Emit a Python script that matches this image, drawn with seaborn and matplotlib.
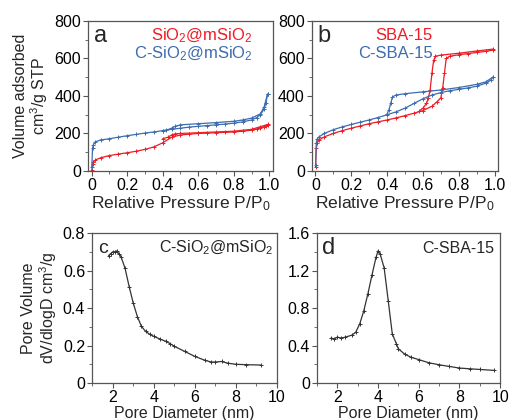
import numpy as np
import pandas as pd
import matplotlib
matplotlib.use("Agg")
import matplotlib.pyplot as plt
from matplotlib.ticker import MultipleLocator, FuncFormatter
import seaborn as sns

# ---- data ----
# panel a: SiO2@mSiO2 (red) and C-SiO2@mSiO2 (blue)
a_p_ads = [0.001, 0.005, 0.01, 0.02, 0.05, 0.1, 0.15, 0.2, 0.25, 0.3, 0.35, 0.4, 0.45,
           0.5, 0.55, 0.6, 0.65, 0.7, 0.75, 0.8, 0.85, 0.9, 0.93, 0.95, 0.97, 0.98, 0.99]
a_blue_ads = [20, 120, 140, 155, 165, 172, 180, 188, 195, 202, 208, 215, 222,
              228, 234, 238, 242, 246, 250, 255, 262, 272, 285, 300, 330, 360, 410]
a_red_ads = [5, 35, 48, 58, 70, 82, 90, 97, 105, 115, 128, 150, 180,
             192, 196, 200, 202, 204, 206, 208, 212, 218, 224, 230, 236, 240, 245]
a_blue_des_p = [0.99, 0.97, 0.95, 0.9, 0.85, 0.8, 0.7, 0.6, 0.5, 0.47, 0.45, 0.42, 0.4]
a_blue_des = [410, 340, 305, 282, 272, 265, 258, 252, 246, 238, 228, 217, 214]
a_red_des_p = [0.99, 0.95, 0.9, 0.8, 0.7, 0.6, 0.5, 0.47, 0.45, 0.43, 0.4]
a_red_des = [248, 236, 222, 212, 208, 204, 200, 198, 192, 180, 172]

# panel b: SBA-15 (red) and C-SBA-15 (blue)
b_blue_p_ads = [0.001, 0.005, 0.01, 0.02, 0.05, 0.1, 0.15, 0.2, 0.25, 0.3, 0.35, 0.4, 0.45,
                0.5, 0.55, 0.6, 0.65, 0.7, 0.75, 0.8, 0.85, 0.9, 0.95, 0.98, 0.99]
b_blue_ads = [30, 150, 170, 182, 200, 220, 235, 248, 260, 272, 285, 300, 315,
              335, 360, 385, 405, 418, 428, 435, 443, 452, 468, 485, 500]
b_blue_des_p = [0.99, 0.95, 0.9, 0.8, 0.7, 0.6, 0.5, 0.45, 0.43, 0.42, 0.41, 0.4]
b_blue_des = [500, 475, 462, 445, 432, 422, 412, 405, 395, 360, 325, 305]
b_red_p_ads = [0.001, 0.005, 0.01, 0.02, 0.05, 0.1, 0.15, 0.2, 0.25, 0.3, 0.35, 0.4, 0.45, 0.5,
               0.55, 0.6, 0.65, 0.68, 0.7, 0.71, 0.72, 0.73, 0.75, 0.8, 0.85, 0.9, 0.95, 0.99]
b_red_ads = [20, 120, 150, 165, 182, 200, 215, 228, 240, 252, 262, 272, 283, 295,
             308, 322, 345, 370, 390, 440, 520, 600, 612, 620, 626, 632, 638, 645]
b_red_des_p = [0.99, 0.9, 0.8, 0.7, 0.67, 0.66, 0.65, 0.64, 0.63, 0.62, 0.6, 0.58]
b_red_des = [650, 640, 628, 618, 612, 590, 520, 430, 390, 360, 335, 320]

# panel c: C-SiO2@mSiO2 pore size distribution
c_d = [1.8, 1.9, 2.0, 2.1, 2.2, 2.3, 2.4, 2.6, 2.8, 3.0, 3.2, 3.4, 3.6, 3.8, 4.0, 4.3, 4.6, 4.8,
       5.0, 5.5, 6.0, 6.5, 6.8, 7.0, 7.3, 7.6, 8.0, 8.5, 9.2]
c_v = [0.68, 0.69, 0.70, 0.70, 0.705, 0.69, 0.675, 0.613, 0.515, 0.427, 0.355, 0.302, 0.276,
       0.26, 0.249, 0.235, 0.222, 0.21, 0.196, 0.169, 0.142, 0.121, 0.112, 0.112, 0.115,
       0.106, 0.100, 0.098, 0.096]

# panel d: C-SBA-15 pore size distribution
d_d = [1.7, 1.85, 2.0, 2.2, 2.4, 2.7, 2.9, 3.1, 3.3, 3.5, 3.7, 3.9, 4.0, 4.1, 4.3, 4.5, 4.7,
       4.9, 5.0, 5.3, 5.6, 6.0, 6.5, 7.0, 7.5, 8.0, 8.5, 9.0, 9.7]
d_v = [0.48, 0.47, 0.49, 0.48, 0.49, 0.51, 0.54, 0.63, 0.77, 0.95, 1.15, 1.34, 1.41, 1.38,
       1.23, 0.88, 0.525, 0.42, 0.365, 0.31, 0.277, 0.25, 0.216, 0.195, 0.177, 0.16, 0.152,
       0.145, 0.135]

RED = "#ee1c25"
BLUE = "#3d6db0"
DARK = "#333333"

sns.set_style("ticks")
plt.rcParams["font.family"] = ["Liberation Sans", "DejaVu Sans"]
plt.rcParams["mathtext.fontset"] = "custom"
plt.rcParams["mathtext.rm"] = "Liberation Sans"
plt.rcParams["mathtext.it"] = "Liberation Sans"
plt.rcParams["mathtext.default"] = "regular"
plt.rcParams["axes.edgecolor"] = "#555555"
plt.rcParams["xtick.color"] = "#555555"
plt.rcParams["ytick.color"] = "#555555"
plt.rcParams["xtick.labelcolor"] = "black"
plt.rcParams["ytick.labelcolor"] = "black"

FS = 11.5

fig = plt.figure(figsize=(5.12, 4.2), dpi=100)
ax_a = fig.add_axes([0.172, 0.593, 0.361, 0.357])
ax_b = fig.add_axes([0.609, 0.593, 0.364, 0.357])
ax_c = fig.add_axes([0.180, 0.088, 0.361, 0.357])
ax_d = fig.add_axes([0.619, 0.088, 0.358, 0.357])


def curve(ax, x, y, color, marker="+"):
    df = pd.DataFrame({"x": x, "y": y})
    sns.lineplot(data=df, x="x", y="y", ax=ax, color=color, sort=False, estimator=None,
                 lw=0.9, marker=marker, markersize=3.5, markeredgewidth=0.7,
                 markeredgecolor=color, markerfacecolor="none")


def fmt_zero(v, pos, nd=1):
    if abs(v) < 1e-9:
        return "0"
    return f"{v:.{nd}f}"


curve(ax_a, a_p_ads, a_red_ads, RED)
curve(ax_a, a_red_des_p, a_red_des, RED)
curve(ax_a, a_p_ads, a_blue_ads, BLUE)
curve(ax_a, a_blue_des_p, a_blue_des, BLUE)

curve(ax_b, b_red_p_ads, b_red_ads, RED)
curve(ax_b, b_red_des_p, b_red_des, RED)
curve(ax_b, b_blue_p_ads, b_blue_ads, BLUE)
curve(ax_b, b_blue_des_p, b_blue_des, BLUE)

curve(ax_c, c_d, c_v, DARK)
curve(ax_d, d_d, d_v, DARK)

for ax in (ax_a, ax_b):
    ax.set_xlim(-0.02, 1.02)
    ax.set_ylim(0, 800)
    ax.xaxis.set_major_locator(MultipleLocator(0.2))
    ax.xaxis.set_minor_locator(MultipleLocator(0.1))
    ax.yaxis.set_major_locator(MultipleLocator(200))
    ax.yaxis.set_minor_locator(MultipleLocator(100))
    ax.xaxis.set_major_formatter(FuncFormatter(fmt_zero))
    ax.set_xlabel("Relative Pressure P/P$_0$", fontsize=12.6, labelpad=1)
    ax.set_ylabel("")

ax_c.set_ylim(0, 0.8)
ax_c.yaxis.set_major_locator(MultipleLocator(0.2))
ax_c.yaxis.set_minor_locator(MultipleLocator(0.1))
ax_d.set_ylim(0, 1.6)
ax_d.yaxis.set_major_locator(MultipleLocator(0.4))
ax_d.yaxis.set_minor_locator(MultipleLocator(0.2))
for ax in (ax_c, ax_d):
    ax.set_xlim(1, 10)
    ax.xaxis.set_major_locator(MultipleLocator(2))
    ax.xaxis.set_minor_locator(MultipleLocator(1))
    ax.yaxis.set_major_formatter(FuncFormatter(fmt_zero))
    ax.set_xlabel("Pore Diameter (nm)", fontsize=FS, labelpad=1)
    ax.set_ylabel("")

for ax in (ax_a, ax_b, ax_c, ax_d):
    ax.tick_params(which="major", length=3.5, width=0.8, labelsize=FS, pad=1.5)
    ax.tick_params(which="minor", length=2, width=0.6)
    for s in ax.spines.values():
        s.set_linewidth(0.9)

ax_a.set_ylabel("Volume adsorbed\ncm$^3$/g STP", fontsize=FS, labelpad=3, linespacing=1.05)
ax_c.set_ylabel("Pore Volume\ndV/dlogD cm$^3$/g", fontsize=FS, labelpad=3, linespacing=1.05)

# panel letters and labels
for ax, letter in ((ax_a, "a"), (ax_b, "b"), (ax_c, "c"), (ax_d, "d")):
    ax.text(0.03, 0.9, letter, transform=ax.transAxes, fontsize=17 if letter in "abd" else 14,
            ha="left", va="center")

ax_a.text(0.89, 0.9, "SiO$_2$@mSiO$_2$", color=RED, transform=ax_a.transAxes,
          fontsize=12, ha="right", va="center")
ax_a.text(0.89, 0.78, "C-SiO$_2$@mSiO$_2$", color=BLUE, transform=ax_a.transAxes,
          fontsize=12, ha="right", va="center")
ax_b.text(0.65, 0.9, "SBA-15", color=RED, transform=ax_b.transAxes,
          fontsize=12, ha="right", va="center")
ax_b.text(0.65, 0.78, "C-SBA-15", color=BLUE, transform=ax_b.transAxes,
          fontsize=12, ha="right", va="center")
ax_c.text(0.98, 0.9, "C-SiO$_2$@mSiO$_2$", transform=ax_c.transAxes,
          fontsize=FS, ha="right", va="center")
ax_d.text(0.97, 0.9, "C-SBA-15", transform=ax_d.transAxes,
          fontsize=FS, ha="right", va="center")

fig.savefig("out.png", dpi=100)
